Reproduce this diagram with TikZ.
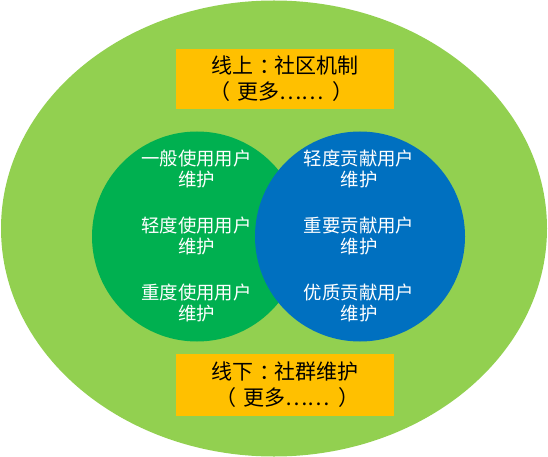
\documentclass[tikz,border=0pt]{standalone}
\usepackage{fontspec}
\usetikzlibrary{shapes.geometric}
\setmainfont{Noto Sans CJK SC}
\definecolor{outergreen}{HTML}{92D050}
\definecolor{usergreen}{HTML}{00B050}
\definecolor{userblue}{HTML}{0070C0}
\definecolor{boxorange}{HTML}{FFC000}
\newcommand{\cjkcolon}{\hspace{0.3em}：\hspace{-0.3em}}
\newcommand{\cjklp}{\hspace{-0.3em}（\hspace{0.3em}}
\newcommand{\cjkrp}{\hspace{0.3em}）\hspace{-0.3em}}
\tikzset{
  usercircle/.style={circle, minimum size=210pt, inner sep=0pt, draw=none},
  orangebox/.style={rectangle, fill=boxorange, minimum width=218pt, inner sep=0pt, align=center, text=black,
    font=\fontsize{21}{26.3}\selectfont},
  usertext/.style={align=center, text=white, inner sep=0pt, font=\fontsize{18.4}{21}\selectfont}
}
\begin{document}
\begin{tikzpicture}[x=1pt,y=-1pt]
\useasboundingbox (0,0) rectangle (548,457);
\node[ellipse, fill=outergreen, minimum width=546pt, minimum height=456pt, inner sep=0pt] (outer) at (274,228.5) {};
\node[usercircle, fill=usergreen] (usecircle) at (197,236.5) {};
\node[usercircle, fill=userblue] (contribcircle) at (360,236.5) {};
\node[orangebox, minimum height=60pt] (online) at (285,79) {线上\cjkcolon 社区机制\\\cjklp 更多……\hspace{0.15em}\cjkrp};
\node[orangebox, minimum height=62pt] (offline) at (285,385) {线下\cjkcolon 社群维护\\\hspace*{12pt}\cjklp 更多……\hspace{0.15em}\cjkrp};
\node[usertext] (u1) at (196.5,168.8) {一般使用用户\\维护};
\node[usertext] (u2) at (196.5,236.3) {轻度使用用户\\维护};
\node[usertext] (u3) at (196.5,303) {重度使用用户\\维护};
\node[usertext] (c1) at (359,168.8) {轻度贡献用户\\维护};
\node[usertext] (c2) at (359,236.3) {重要贡献用户\\维护};
\node[usertext] (c3) at (359,303) {优质贡献用户\\维护};
\end{tikzpicture}
\end{document}
